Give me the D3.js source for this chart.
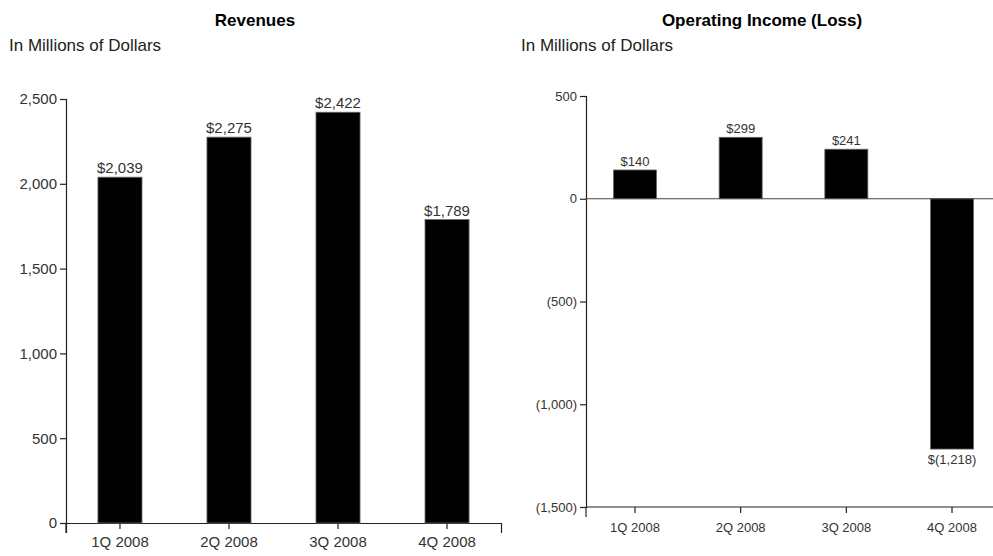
<!DOCTYPE html>
<html>
<head>
<meta charset="utf-8">
<script src="https://cdn.jsdelivr.net/npm/d3@7"></script>
<style>
  body { margin: 0; background: #fff; }
  svg { font-family: "Liberation Sans", Arial, sans-serif; }
  .axis path, .axis line { stroke: #222; stroke-width: 1.2; }
  .axis text { fill: #333; }
  .bar { fill: #000; stroke: #666; stroke-width: 0.8; }
  .val { fill: #333; text-anchor: middle; }
</style>
</head>
<body>
<div id="chart"></div>
<script>
const quarters = ["1Q 2008", "2Q 2008", "3Q 2008", "4Q 2008"];
const revenues = [2039, 2275, 2422, 1789];
const opIncome = [140, 299, 241, -1218];
const revTicks = [0, 500, 1000, 1500, 2000, 2500];
const opTicks = [500, 0, -500, -1000, -1500];

const svg = d3.select("#chart").append("svg")
    .attr("width", 993)
    .attr("height", 556);

// number formats
const comma = d3.format(",");
function paren(v) { return v < 0 ? "(" + comma(-v) + ")" : comma(v); }
function dollars(v) { return v < 0 ? "$(" + comma(-v) + ")" : "$" + comma(v); }

// ---------- Revenues ----------
const revX = d3.scaleBand()
    .domain(quarters)
    .range([66, 501])
    .paddingInner(0.596)
    .paddingOuter(0.293);

const revY = d3.scaleLinear()
    .domain([0, 2500])
    .range([523, 99]);

svg.append("text")
    .attr("x", 255).attr("y", 26)
    .attr("text-anchor", "middle")
    .style("font-weight", "bold").style("font-size", "17px")
    .text("Revenues");

svg.append("text")
    .attr("x", 9).attr("y", 51)
    .style("font-size", "17px").attr("fill", "#222")
    .text("In Millions of Dollars");

svg.append("g")
    .attr("class", "axis")
    .attr("transform", "translate(0,523)")
    .call(d3.axisBottom(revX).tickSize(6).tickSizeOuter(10))
    .selectAll("text").style("font-size", "15px").attr("dy", "1em");

svg.append("g")
    .attr("class", "axis")
    .attr("transform", "translate(66,0)")
    .call(d3.axisLeft(revY).tickValues(revTicks).tickFormat(comma).tickSizeOuter(6))
    .selectAll("text").style("font-size", "15px");

// y axis runs a bit below the x axis
svg.append("line")
    .attr("x1", 66).attr("x2", 66)
    .attr("y1", revY(0)).attr("y2", revY(0) + 10)
    .attr("stroke", "#222").attr("stroke-width", 1.2);

svg.selectAll(".revBar")
    .data(revenues)
    .enter()
    .append("rect")
    .attr("class", "bar revBar")
    .attr("x", function(d, i) { return revX(quarters[i]); })
    .attr("width", revX.bandwidth())
    .attr("y", function(d) { return revY(d); })
    .attr("height", function(d) { return revY(0) - revY(d); });

svg.selectAll(".revVal")
    .data(revenues)
    .enter()
    .append("text")
    .attr("class", "val revVal")
    .style("font-size", "15px")
    .attr("x", function(d, i) { return revX(quarters[i]) + revX.bandwidth() / 2; })
    .attr("y", function(d) { return revY(d) - 4; })
    .text(dollars);

// ---------- Operating Income (Loss) ----------
const opX = d3.scaleBand()
    .domain(quarters)
    .range([586, 1001])
    .paddingInner(0.593)
    .paddingOuter(0.26);

const opY = d3.scaleLinear()
    .domain([-1500, 500])
    .range([507, 96]);

svg.append("text")
    .attr("x", 762).attr("y", 26)
    .attr("text-anchor", "middle")
    .style("font-weight", "bold").style("font-size", "17px")
    .text("Operating Income (Loss)");

svg.append("text")
    .attr("x", 521).attr("y", 51)
    .style("font-size", "17px").attr("fill", "#222")
    .text("In Millions of Dollars");

const opXAxis = svg.append("g")
    .attr("class", "axis")
    .attr("transform", "translate(0," + opY(-1500) + ")")
    .call(d3.axisBottom(opX).tickSize(6).tickSizeOuter(0));
opXAxis.select(".domain").attr("d", "M586,0H993");
opXAxis.selectAll("text").style("font-size", "13px").attr("dy", "1.25em");

svg.append("g")
    .attr("class", "axis")
    .attr("transform", "translate(586,0)")
    .call(d3.axisLeft(opY).tickValues(opTicks).tickFormat(paren).tickSizeOuter(6))
    .selectAll("text").style("font-size", "13px");

svg.append("line")
    .attr("x1", 586).attr("x2", 586)
    .attr("y1", opY(-1500)).attr("y2", opY(-1500) + 10)
    .attr("stroke", "#222").attr("stroke-width", 1.2);

svg.selectAll(".opBar")
    .data(opIncome)
    .enter()
    .append("rect")
    .attr("class", "bar opBar")
    .attr("x", function(d, i) { return opX(quarters[i]); })
    .attr("width", opX.bandwidth())
    .attr("y", function(d) { return opY(Math.max(0, d)); })
    .attr("height", function(d) { return Math.abs(opY(d) - opY(0)); });

// zero line across the plot
svg.append("line")
    .attr("x1", 586).attr("x2", 993)
    .attr("y1", opY(0)).attr("y2", opY(0))
    .attr("stroke", "#444").attr("stroke-width", 1.2);

svg.selectAll(".opVal")
    .data(opIncome)
    .enter()
    .append("text")
    .attr("class", "val opVal")
    .style("font-size", "13px")
    .attr("x", function(d, i) { return opX(quarters[i]) + opX.bandwidth() / 2; })
    .attr("y", function(d) { return d < 0 ? opY(d) + 15 : opY(d) - 4; })
    .text(dollars);
</script>
</body>
</html>
